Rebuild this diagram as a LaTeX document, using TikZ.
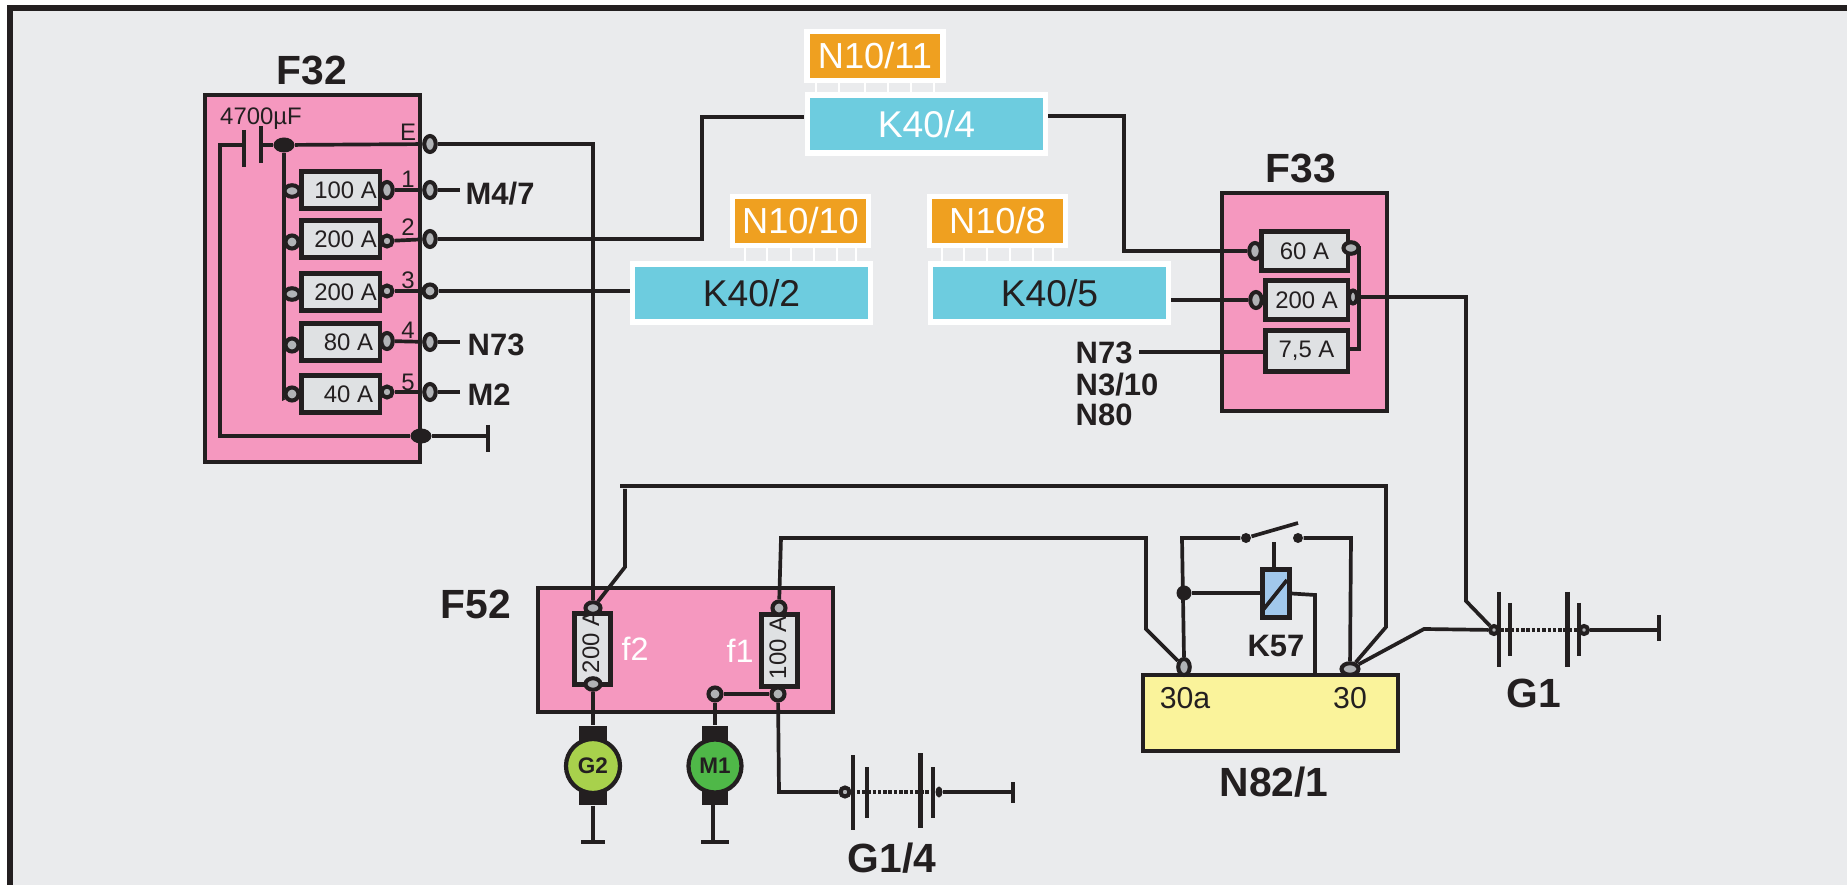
\documentclass[tikz,border=0pt]{standalone}
\usepackage{fontspec}
\setmainfont{Liberation Sans}
\usepackage{tikz}
\usetikzlibrary{positioning, shapes.geometric}

\definecolor{panelgray}{HTML}{EAEBED}
\definecolor{boxpink}{HTML}{F598BF}
\definecolor{inkblack}{HTML}{231F20}
\definecolor{fusegray}{HTML}{DFE1E3}
\definecolor{termgray}{HTML}{B1B3B6}
\definecolor{relaycyan}{HTML}{6DCCDF}
\definecolor{modorange}{HTML}{EFA020}
\definecolor{relayblue}{HTML}{A1C8EC}
\definecolor{unityellow}{HTML}{FAF39B}
\definecolor{gengreen}{HTML}{A8D14C}
\definecolor{motorgreen}{HTML}{4FB848}

\tikzset{
    wire/.style={draw=inkblack, line width=1.05pt, line join=miter},
    cellline/.style={draw=inkblack, line width=1pt, dash pattern=on 1pt off 0.5pt},
    plate/.style={draw=inkblack, line width=1.3pt},
    unitbox/.style={draw=inkblack, line width=1.15pt, inner sep=0pt},
    fusebox/.style={draw=inkblack, fill=fusegray, line width=1.15pt, inner sep=0pt, minimum width=0.78cm, minimum height=0.37cm, font=\fontsize{6.8}{8}\selectfont, text=inkblack},
    relaybox/.style={draw=white, fill=relaycyan, line width=1.5pt, inner sep=0pt, minimum width=2.38cm, minimum height=0.58cm, font=\fontsize{10.6}{12}\selectfont},
    modbox/.style={draw=white, fill=modorange, line width=1.5pt, inner sep=0pt, minimum width=1.36cm, minimum height=0.49cm, text=white, font=\fontsize{10.3}{12}\selectfont},
    pinline/.style={draw=white, line width=0.85pt},
    term/.style={ellipse, draw=inkblack, fill=termgray, line width=1.15pt, inner sep=0pt, minimum width=0.13cm, minimum height=0.13cm},
    termtall/.style={term, minimum width=0.115cm, minimum height=0.16cm},
    termwide/.style={term, minimum width=0.15cm, minimum height=0.115cm},
    junction/.style={ellipse, fill=inkblack, inner sep=0pt, minimum width=0.21cm, minimum height=0.15cm},
    bigtitle/.style={font=\fontsize{11.6}{13}\selectfont\bfseries, text=inkblack, inner sep=0pt},
    wiretag/.style={font=\fontsize{8.8}{10}\selectfont\bfseries, text=inkblack, inner sep=0pt},
    smalltext/.style={font=\fontsize{6.8}{8}\selectfont, text=inkblack, inner sep=0pt},
    motor/.style={circle, draw=inkblack, line width=1.2pt, inner sep=0pt, minimum size=0.54cm, font=\fontsize{6.4}{8}\selectfont\bfseries, text=inkblack},
    motorcap/.style={fill=inkblack, inner sep=0pt}
}

\begin{document}
\begin{tikzpicture}[x=0.01cm, y=-0.01cm]
    \useasboundingbox (0,0) rectangle (1847,885);
    \fill[white] (0,0) rectangle (1847,885);
    \fill[panelgray] (10,8) rectangle (1847,885);
    \fill[inkblack] (7,5) rectangle (1847,11);
    \fill[inkblack] (7,5) rectangle (13,885);

    % F32
    \node[unitbox, fill=boxpink, minimum width=2.15cm, minimum height=3.66cm] (F32) at (312.5,278.5) {};
    \node[bigtitle] (F32t) at (312,70) {F32};
    \node[smalltext] (C1t) at (261,119) {4700µF};
    \node[smalltext] (Et) at (408,132) {E};
    \coordinate (capL) at (220,145);
    \coordinate (capA) at (244,145);
    \coordinate (capB) at (261,145);
    \node[junction] (capdot) at (284,145) {};
    \node[junction] (gnddot) at (421,436) {};
    \coordinate (railL) at (220,436);
    \coordinate (gndT) at (488,436);
    \draw[wire] (capA) -- (capL) -- (railL) -- (gnddot) -- (gndT);
    \draw[wire] (488,425) -- (488,452);
    \draw[plate] (244,130) -- (244,167);
    \draw[plate] (261,126) -- (261,163);
    \draw[wire] (capB) -- (capdot);

    \node[fusebox] (fa) at (340.5,190) {\hspace{0.1cm}100 A};
    \node[fusebox] (fb) at (340.5,239) {\hspace{0.1cm}200 A};
    \node[fusebox] (fc) at (340.5,292) {\hspace{0.1cm}200 A};
    \node[fusebox] (fd) at (340.5,342) {\hspace{0.16cm}80 A};
    \node[fusebox] (fe) at (340.5,394) {\hspace{0.16cm}40 A};

    \node[termwide] (faL) at (292,191) {};
    \node[term] (fbL) at (292,242) {};
    \node[termwide] (fcL) at (292,294) {};
    \node[term] (fdL) at (292,345) {};
    \node[term] (feL) at (292,394) {};
    \node[termtall] (faR) at (387,190) {};
    \node[term, minimum width=0.11cm, minimum height=0.11cm] (fbR) at (387,241) {};
    \node[term, minimum width=0.11cm, minimum height=0.11cm] (fcR) at (387,291) {};
    \node[termtall] (fdR) at (387,341) {};
    \node[term, minimum width=0.11cm, minimum height=0.11cm] (feR) at (387,392) {};

    \node[termtall] (tE) at (430,144) {};
    \node[termtall] (ta) at (430,190) {};
    \node[termtall] (tb) at (430,239) {};
    \node[term] (tc) at (430,291) {};
    \node[termtall] (td) at (430,342) {};
    \node[termtall] (te) at (430,392) {};
    \coordinate (busEnd) at (284,398);
    \draw[wire] (capdot) -- (tE);
    \draw[wire] (capdot) -- (busEnd) -- (feL);
    \draw[wire] (284,191) -- (faL);
    \draw[wire] (284,242) -- (fbL);
    \draw[wire] (284,294) -- (fcL);
    \draw[wire] (284,345) -- (fdL);
    \draw[wire] (faR) -- (ta);
    \draw[wire] (fbR) -- (tb);
    \draw[wire] (fcR) -- (tc);
    \draw[wire] (fdR) -- (td);
    \draw[wire] (feR) -- (te);
    \node[smalltext] (n1) at (408,179) {1};
    \node[smalltext] (n2) at (408,227) {2};
    \node[smalltext] (n3) at (408,280) {3};
    \node[smalltext] (n4) at (408,330) {4};
    \node[smalltext] (n5) at (408,382) {5};
    \coordinate (sa) at (460,190);
    \coordinate (sd) at (460,342);
    \coordinate (se) at (460,392);
    \draw[wire] (ta) -- (sa);
    \draw[wire] (td) -- (sd);
    \draw[wire] (te) -- (se);
    \node[wiretag, anchor=west] (M47) at (465,194) {M4/7};
    \node[wiretag, anchor=west] (N73a) at (467,345) {N73};
    \node[wiretag, anchor=west] (M2a) at (467,395) {M2};

    % relays
    \foreach \px in {816,839,865,888,911,934} \draw[pinline] (\px,83) -- (\px,92);
    \foreach \px in {745,767,791,814,837,856} \draw[pinline] (\px,248) -- (\px,261);
    \foreach \px in {942,964,987,1010,1033,1053} \draw[pinline] (\px,248) -- (\px,261);
    \node[modbox] (N1011) at (875,56) {N10/11};
    \node[modbox] (N1010) at (800.5,221) {N10/10};
    \node[modbox] (N108) at (997.5,221) {N10/8};
    \node[relaybox, text=white] (K404) at (926.5,124) {K40/4};
    \node[relaybox, text=inkblack] (K402) at (751.5,293) {K40/2};
    \node[relaybox, text=inkblack] (K405) at (1049.5,293) {K40/5};

    % F33
    \node[unitbox, fill=boxpink, minimum width=1.64cm, minimum height=2.17cm] (F33) at (1304.5,302) {};
    \node[bigtitle] (F33t) at (1301,168) {F33};
    \node[fusebox, minimum width=0.86cm, minimum height=0.39cm] (g60) at (1304.5,251) {60 A};
    \node[fusebox, minimum width=0.82cm, minimum height=0.39cm] (g200) at (1306.5,300) {200 A};
    \node[fusebox, minimum width=0.82cm, minimum height=0.41cm] (g75) at (1306.5,351) {7,5 A};
    \node[termtall] (g60L) at (1255,251) {};
    \node[termwide] (g60R) at (1351,248) {};
    \node[termtall] (g200L) at (1256,300) {};
    \node[termtall, minimum width=0.08cm, minimum height=0.13cm] (g200R) at (1353,297) {};
    \coordinate (bus33T) at (1359,244);
    \coordinate (bus33B) at (1359,349);
    \draw[wire, line width=0.9pt] (g60R) -- (g60R -| bus33T) -- (bus33B) -- (g75.east |- bus33B);
    \draw[wire] (K404.east) ++(0,-8) coordinate (k4r) -- (1124,116) -- (1124,251) -- (g60L);
    \draw[wire] (K405.east) ++(0,7) coordinate (k5r) -- (g200L);
    \coordinate (n73s) at (1139,352);
    \draw[wire] (n73s) -- (g75.west |- n73s);
    \node[wiretag, anchor=west] (N73b) at (1075,353) {N73};
    \node[wiretag, anchor=west] (N310) at (1075,385) {N3/10};
    \node[wiretag, anchor=west] (N80) at (1075,415) {N80};

    \coordinate (k4l) at (804,117);
    \draw[wire] (tb) -- (702,239) -- (702,117) -- (k4l);
    \draw[wire] (tc) -- (K402.west |- tc);

    % F52
    \node[unitbox, fill=boxpink, minimum width=2.95cm, minimum height=1.24cm] (F52) at (685.5,650) {};
    \node[bigtitle] (F52t) at (476,604) {F52};
    \node[fusebox, minimum width=0.36cm, minimum height=0.71cm] (f2) at (592.5,649) {};
    \node[smalltext, rotate=90] (f2a) at (591,642) {200 A};
    \node[fusebox, minimum width=0.36cm, minimum height=0.72cm] (f1) at (779.5,650.5) {};
    \node[smalltext, rotate=90] (f1a) at (778,648) {100 A};
    \node[font=\fontsize{9.2}{11}\selectfont, text=white, inner sep=0pt] (f2t) at (635,649) {f2};
    \node[font=\fontsize{9.2}{11}\selectfont, text=white, inner sep=0pt] (f1t) at (740,651) {f1};
    \node[termwide] (f2T) at (593,608) {};
    \node[termwide] (f2B) at (593,684) {};
    \node[term] (f1T) at (779,608) {};
    \node[term] (f1B) at (778,694) {};
    \node[term] (m1T) at (715,694) {};
    \draw[wire] (m1T) -- (f1B);

    % motors
    \node[motorcap, minimum width=0.28cm, minimum height=0.79cm] (G2c) at (593,765.5) {};
    \node[motorcap, minimum width=0.25cm, minimum height=0.79cm] (M1c) at (715,765.5) {};
    \node[motor, fill=gengreen] (G2) at (593,766) {G2};
    \node[motor, fill=motorgreen, minimum size=0.53cm] (M1) at (715,766) {M1};
    \coordinate (G2g) at (593,842);
    \coordinate (M1g) at (713,842);
    \draw[wire] (f2B) -- (G2c);
    \draw[wire] (m1T) -- (M1c.north -| m1T);
    \draw[wire] (G2c) -- (G2g);
    \draw[wire] (713,805) -- (M1g);
    \draw[wire] (581,842) -- (605,842);
    \draw[wire] (701,842) -- (729,842);

    % G1/4
    \node[term, minimum width=0.09cm, minimum height=0.09cm] (b4L) at (845,792) {};
    \node[junction, minimum width=0.07cm, minimum height=0.11cm] (b4R) at (939,792) {};
    \coordinate (b4T) at (1013,792);
    \draw[wire] (f1B) -- (779,792) -- (b4L);
    \draw[cellline] (b4L) -- (b4R);
    \draw[wire] (b4R) -- (b4T);
    \draw[wire] (1013,782) -- (1013,803);
    \draw[plate] (853,755) -- (853,830);
    \draw[plate] (867,767) -- (867,818);
    \draw[plate] (920.5,753) -- (920.5,828);
    \draw[plate] (933,767) -- (933,818);
    \node[bigtitle] (G14) at (892,858) {G1/4};

    % N82/1
    \node[unitbox, fill=unityellow, minimum width=2.54cm, minimum height=0.76cm] (N821) at (1270.5,713) {};
    \node[bigtitle] (N821t) at (1274,782) {N82/1};
    \node[font=\fontsize{8.6}{10}\selectfont, text=inkblack, inner sep=0pt] (t30a) at (1185,698) {30a};
    \node[font=\fontsize{8.6}{10}\selectfont, text=inkblack, inner sep=0pt] (t30b) at (1350,698) {30};
    \node[termtall] (p30a) at (1184,667) {};
    \node[termwide, minimum width=0.17cm] (p30) at (1350,669) {};

    % K57
    \node[unitbox, fill=relayblue, minimum width=0.27cm, minimum height=0.48cm] (K57) at (1276,593.5) {};
    \node[wiretag] (K57t) at (1276,646) {K57};
    \node[junction, minimum width=0.15cm, minimum height=0.15cm] (kdot) at (1184,593) {};
    \node[junction, minimum width=0.1cm, minimum height=0.1cm] (swL) at (1246,538) {};
    \node[junction, minimum width=0.1cm, minimum height=0.1cm] (swR) at (1298,538) {};
    \coordinate (swTip) at (1298,523);
    \coordinate (k57top) at (1274,542);
    \draw[wire] (1263,610) -- (1287,580);
    \draw[wire] (K57.north -| k57top) -- (k57top);
    \draw[wire] (kdot) -- (K57.west |- kdot);
    \draw[wire] (K57.east) -- (1315,595) -- (1315,674);
    \draw[wire] (p30a.north) -- (1182,538) -- (swL);
    \draw[wire] (swL) -- (swTip);
    \draw[wire] (swR) -- (1351,538) -- (p30);

    % long wires
    \draw[wire] (tE) -- (593,144) -- (f2T);
    \draw[wire] (f2T) -- (625,567) -- (625,489);
    \draw[wire] (620,486) -- (1386,486) -- (1386,627) -- (p30);
    \draw[wire] (f1T) -- (781,538) -- (1146,538) -- (1146,629) -- (p30a);

    % G1
    \node[term, minimum width=0.08cm, minimum height=0.08cm] (b1L) at (1494,630) {};
    \node[term, minimum width=0.08cm, minimum height=0.08cm] (b1R) at (1584,630) {};
    \coordinate (b1T) at (1659,630);
    \coordinate (b1S) at (1424,629);
    \draw[wire] (p30) -- (b1S) -- (b1L);
    \draw[cellline] (b1L) -- (b1R);
    \draw[wire] (b1R) -- (b1T);
    \draw[wire] (1659,615) -- (1659,641);
    \draw[plate] (1499,592) -- (1499,667);
    \draw[plate] (1510,603) -- (1510,656);
    \draw[plate] (1567.5,592) -- (1567.5,667);
    \draw[plate] (1579,603) -- (1579,656);
    \draw[wire] (g200R) -- (1466,297) -- (1466,601) -- (b1L);
    \node[bigtitle] (G1t) at (1534,693) {G1};
\end{tikzpicture}
\end{document}
